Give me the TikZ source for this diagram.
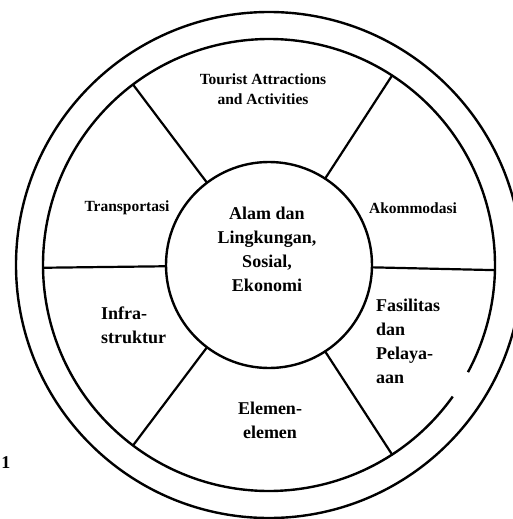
\documentclass[tikz,border=0pt]{standalone}
\usepackage{fontspec}
\setmainfont{Liberation Serif}
\usetikzlibrary{calc}
\begin{document}
\begin{tikzpicture}[x=1pt,y=-1pt, line width=2.4pt,
  lbl/.style={font=\fontsize{15.5}{20}\selectfont\bfseries, align=center, inner sep=0pt},
  big/.style={font=\fontsize{18}{24}\selectfont\bfseries, inner sep=0pt},
  spoke/.style={line width=2.2pt}]
\useasboundingbox (0,0) rectangle (513,519);
\coordinate (C) at (269,265);
% outer circle
\draw (C) circle[radius=253];
% ring (with a small break at lower right as in the scan)
\draw ($(C)+(35.6:226)$) arc[start angle=35.6, end angle=388.3, radius=226];
% centre circle
\draw (C) circle[radius=103];
% spokes
\foreach \a in {-57,-127,127,57}
  \draw[spoke] ($(C)+(\a:103)$) -- ($(C)+(\a:226)$);
\draw[spoke] ($(C)+(179.3:103)$) -- ($(C)+(179.3:226)$);
\draw[spoke] ($(C)+(1.3:103)$) -- ($(C)+(1.3:226)$);
% labels
\node[big, align=center] (core) at (267,249) {Alam dan\\Lingkungan,\\Sosial,\\Ekonomi};
\node[lbl] (tour) at (263,89) {Tourist Attractions\\and Activities};
\node[lbl] (trans) at (127,208) {Transportasi};
\node[lbl] (akom) at (413,208) {Akommodasi};
\node[big, align=left, anchor=west] (infra) at (100,325) {Infra-\\struktur};
\node[big, align=left, anchor=west] (fas) at (375,341) {Fasilitas\\dan\\Pelaya-\\aan};
\node[big, align=center] (elem) at (270,420) {Elemen-\\elemen};
\node[big] (one) at (6,463) {1};
\end{tikzpicture}
\end{document}
